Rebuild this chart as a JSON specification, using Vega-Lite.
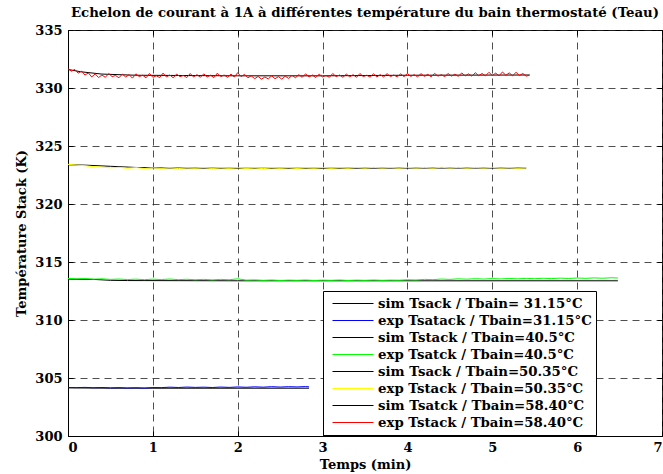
{
  "$schema": "https://vega.github.io/schema/vega-lite/v6.json",
  "width": 594,
  "height": 406,
  "autosize": "none",
  "padding": {"left": 68, "top": 30, "right": 1, "bottom": 38},
  "background": "white",
  "title": {
    "text": "Echelon de courant à 1A à différentes température du bain thermostaté (Teau)",
    "font": "DejaVu Serif", "fontWeight": "bold", "fontSize": 13.3, "color": "black",
    "anchor": "middle", "offset": 5
  },
  "config": {
    "view": {"stroke": "black", "strokeWidth": 1},
    "axis": {
      "labelFont": "DejaVu Serif", "labelFontWeight": "bold", "labelFontSize": 13, "labelColor": "black",
      "titleFont": "DejaVu Serif", "titleFontWeight": "bold", "titleFontSize": 13, "titleColor": "black",
      "domainColor": "black", "tickColor": "black", "tickSize": -5,
      "gridColor": "#222", "gridDash": [7, 5], "gridWidth": 0.8, "gridOpacity": 1
    },
    "line": {"strokeWidth": 1}
  },
  "resolve": {"axis": {"x": "independent", "y": "independent"}},
  "layer": [
    {
      "data": {"values": [{"t": 0, "v": 304.15}, {"t": 0.5, "v": 304.12}, {"t": 2.84, "v": 304.12}]},
      "mark": "line",
      "encoding": {
        "x": {"field": "t", "type": "quantitative", "scale": {"domain": [0, 7], "nice": false},
              "axis": {"title": "Temps (min)", "values": [0,1,2,3,4,5,6,7], "grid": true, "labelPadding": 10, "titleY": 28, "titleBaseline": "middle"}},
        "y": {"field": "v", "type": "quantitative", "scale": {"domain": [300, 335], "nice": false, "zero": false},
              "axis": {"title": "Température Stack (K)", "values": [300,305,310,315,320,325,330,335], "grid": true, "labelPadding": 11, "titlePadding": 6}},
        "color": {"datum": "sim Tsack / Tbain= 31.15°C", "type": "nominal",
          "scale": {
            "domain": ["sim Tsack / Tbain= 31.15°C", "exp Tsatack / Tbain=31.15°C", "sim Tstack / Tbain=40.5°C", "exp Tsatck / Tbain=40.5°C", "sim Tsack / Tbain=50.35°C", "exp Tstack / Tbain=50.35°C", "sim Tsatck / Tbain=58.40°C", "exp Tstack / Tbain=58.40°C"],
            "range": ["#000000", "#0000ff", "#000000", "#00ff00", "#000000", "#ffff00", "#000000", "#ff0000"]
          },
          "legend": {
            "title": null, "orient": "none", "legendX": 255, "legendY": 261,
            "fillColor": "white", "strokeColor": "black", "padding": 4,
            "symbolType": "stroke", "symbolSize": 1681, "symbolStrokeWidth": 1, "symbolOffset": 5,
            "labelFont": "DejaVu Serif", "labelFontWeight": "bold", "labelFontSize": 13.3, "labelColor": "black",
            "labelLimit": 400, "labelOffset": 4, "rowPadding": 0, "clipHeight": 17
          }
        }
      }
    },
    {
      "data": {"values": [
        {"t": 0.0, "v": 304.18}, {"t": 0.1, "v": 304.17}, {"t": 0.2, "v": 304.19}, {"t": 0.3, "v": 304.16}, {"t": 0.4, "v": 304.18},
        {"t": 0.5, "v": 304.15}, {"t": 0.6, "v": 304.17}, {"t": 0.7, "v": 304.14}, {"t": 0.8, "v": 304.16}, {"t": 0.9, "v": 304.13},
        {"t": 1.0, "v": 304.18}, {"t": 1.1, "v": 304.17}, {"t": 1.2, "v": 304.21}, {"t": 1.3, "v": 304.18}, {"t": 1.4, "v": 304.22},
        {"t": 1.5, "v": 304.19}, {"t": 1.6, "v": 304.21}, {"t": 1.7, "v": 304.18}, {"t": 1.8, "v": 304.22}, {"t": 1.9, "v": 304.19},
        {"t": 2.0, "v": 304.23}, {"t": 2.1, "v": 304.20}, {"t": 2.2, "v": 304.24}, {"t": 2.3, "v": 304.21}, {"t": 2.4, "v": 304.25},
        {"t": 2.5, "v": 304.22}, {"t": 2.6, "v": 304.25}, {"t": 2.7, "v": 304.23}, {"t": 2.8, "v": 304.26}, {"t": 2.84, "v": 304.24}
      ]},
      "mark": "line",
      "encoding": {
        "x": {"field": "t", "type": "quantitative", "axis": null},
        "y": {"field": "v", "type": "quantitative", "axis": null},
        "color": {"datum": "exp Tsatack / Tbain=31.15°C", "type": "nominal"}
      }
    },
    {
      "data": {"values": [{"t": 0, "v": 313.52}, {"t": 0.3, "v": 313.5}, {"t": 0.5, "v": 313.42}, {"t": 0.7, "v": 313.4}, {"t": 2, "v": 313.38}, {"t": 6.48, "v": 313.38}]},
      "mark": "line",
      "encoding": {
        "x": {"field": "t", "type": "quantitative", "axis": null},
        "y": {"field": "v", "type": "quantitative", "axis": null},
        "color": {"datum": "sim Tstack / Tbain=40.5°C", "type": "nominal"}
      }
    },
    {
      "data": {"values": [
        {"t": 0.0, "v": 313.58}, {"t": 0.1, "v": 313.55}, {"t": 0.2, "v": 313.57}, {"t": 0.3, "v": 313.52}, {"t": 0.4, "v": 313.55},
        {"t": 0.5, "v": 313.50}, {"t": 0.6, "v": 313.53}, {"t": 0.7, "v": 313.49}, {"t": 0.8, "v": 313.52}, {"t": 0.9, "v": 313.48},
        {"t": 1.0, "v": 313.52}, {"t": 1.1, "v": 313.49}, {"t": 1.2, "v": 313.53}, {"t": 1.3, "v": 313.48}, {"t": 1.4, "v": 313.51},
        {"t": 1.5, "v": 313.47}, {"t": 1.6, "v": 313.50}, {"t": 1.7, "v": 313.46}, {"t": 1.8, "v": 313.50}, {"t": 1.9, "v": 313.47},
        {"t": 2.0, "v": 313.55}, {"t": 2.1, "v": 313.44}, {"t": 2.2, "v": 313.46}, {"t": 2.3, "v": 313.42}, {"t": 2.4, "v": 313.45},
        {"t": 2.5, "v": 313.41}, {"t": 2.6, "v": 313.44}, {"t": 2.7, "v": 313.42}, {"t": 2.8, "v": 313.45}, {"t": 2.9, "v": 313.41},
        {"t": 3.0, "v": 313.44}, {"t": 3.1, "v": 313.42}, {"t": 3.2, "v": 313.45}, {"t": 3.3, "v": 313.41}, {"t": 3.4, "v": 313.44},
        {"t": 3.5, "v": 313.42}, {"t": 3.6, "v": 313.45}, {"t": 3.7, "v": 313.42}, {"t": 3.8, "v": 313.44}, {"t": 3.9, "v": 313.43},
        {"t": 4.0, "v": 313.47}, {"t": 4.1, "v": 313.45}, {"t": 4.2, "v": 313.50}, {"t": 4.3, "v": 313.48}, {"t": 4.4, "v": 313.53},
        {"t": 4.5, "v": 313.50}, {"t": 4.6, "v": 313.55}, {"t": 4.7, "v": 313.52}, {"t": 4.8, "v": 313.56}, {"t": 4.9, "v": 313.53},
        {"t": 5.0, "v": 313.57}, {"t": 5.1, "v": 313.54}, {"t": 5.2, "v": 313.58}, {"t": 5.3, "v": 313.55}, {"t": 5.4, "v": 313.59},
        {"t": 5.5, "v": 313.56}, {"t": 5.6, "v": 313.60}, {"t": 5.7, "v": 313.57}, {"t": 5.8, "v": 313.61}, {"t": 5.9, "v": 313.58},
        {"t": 6.0, "v": 313.62}, {"t": 6.1, "v": 313.59}, {"t": 6.2, "v": 313.63}, {"t": 6.3, "v": 313.60}, {"t": 6.4, "v": 313.64},
        {"t": 6.48, "v": 313.62}
      ]},
      "mark": "line",
      "encoding": {
        "x": {"field": "t", "type": "quantitative", "axis": null},
        "y": {"field": "v", "type": "quantitative", "axis": null},
        "color": {"datum": "exp Tsatck / Tbain=40.5°C", "type": "nominal"}
      }
    },
    {
      "data": {"values": [{"t": 0, "v": 323.38}, {"t": 0.2, "v": 323.35}, {"t": 0.5, "v": 323.25}, {"t": 0.8, "v": 323.15}, {"t": 1.2, "v": 323.1}, {"t": 2, "v": 323.08}, {"t": 3, "v": 323.08}, {"t": 4, "v": 323.1}, {"t": 5.4, "v": 323.1}]},
      "mark": "line",
      "encoding": {
        "x": {"field": "t", "type": "quantitative", "axis": null},
        "y": {"field": "v", "type": "quantitative", "axis": null},
        "color": {"datum": "sim Tsack / Tbain=50.35°C", "type": "nominal"}
      }
    },
    {
      "data": {"values": [
        {"t": 0.0, "v": 323.42}, {"t": 0.1, "v": 323.35}, {"t": 0.2, "v": 323.30}, {"t": 0.3, "v": 323.22}, {"t": 0.4, "v": 323.18},
        {"t": 0.5, "v": 323.12}, {"t": 0.6, "v": 323.16}, {"t": 0.7, "v": 323.08}, {"t": 0.8, "v": 323.14}, {"t": 0.9, "v": 323.06},
        {"t": 1.0, "v": 323.12}, {"t": 1.1, "v": 323.07}, {"t": 1.2, "v": 323.13}, {"t": 1.3, "v": 323.05}, {"t": 1.4, "v": 323.12},
        {"t": 1.5, "v": 323.08}, {"t": 1.6, "v": 323.14}, {"t": 1.7, "v": 323.06}, {"t": 1.8, "v": 323.12}, {"t": 1.9, "v": 323.07},
        {"t": 2.0, "v": 323.13}, {"t": 2.1, "v": 323.06}, {"t": 2.2, "v": 323.11}, {"t": 2.3, "v": 323.05}, {"t": 2.4, "v": 323.12},
        {"t": 2.5, "v": 323.07}, {"t": 2.6, "v": 323.13}, {"t": 2.7, "v": 323.06}, {"t": 2.8, "v": 323.12}, {"t": 2.9, "v": 323.08},
        {"t": 3.0, "v": 323.14}, {"t": 3.1, "v": 323.07}, {"t": 3.2, "v": 323.13}, {"t": 3.3, "v": 323.08}, {"t": 3.4, "v": 323.15},
        {"t": 3.5, "v": 323.09}, {"t": 3.6, "v": 323.16}, {"t": 3.7, "v": 323.10}, {"t": 3.8, "v": 323.15}, {"t": 3.9, "v": 323.09},
        {"t": 4.0, "v": 323.16}, {"t": 4.1, "v": 323.10}, {"t": 4.2, "v": 323.15}, {"t": 4.3, "v": 323.09}, {"t": 4.4, "v": 323.17},
        {"t": 4.5, "v": 323.10}, {"t": 4.6, "v": 323.16}, {"t": 4.7, "v": 323.09}, {"t": 4.8, "v": 323.15}, {"t": 4.9, "v": 323.10},
        {"t": 5.0, "v": 323.16}, {"t": 5.1, "v": 323.09}, {"t": 5.2, "v": 323.14}, {"t": 5.3, "v": 323.08}, {"t": 5.4, "v": 323.12}
      ]},
      "mark": "line",
      "encoding": {
        "x": {"field": "t", "type": "quantitative", "axis": null},
        "y": {"field": "v", "type": "quantitative", "axis": null},
        "color": {"datum": "exp Tstack / Tbain=50.35°C", "type": "nominal"}
      }
    },
    {
      "data": {"values": [{"t": 0, "v": 331.6}, {"t": 0.15, "v": 331.4}, {"t": 0.4, "v": 331.2}, {"t": 0.8, "v": 331.1}, {"t": 2, "v": 331.05}, {"t": 3, "v": 331.05}, {"t": 4, "v": 331.1}, {"t": 5.44, "v": 331.12}]},
      "mark": "line",
      "encoding": {
        "x": {"field": "t", "type": "quantitative", "axis": null},
        "y": {"field": "v", "type": "quantitative", "axis": null},
        "color": {"datum": "sim Tsatck / Tbain=58.40°C", "type": "nominal"}
      }
    },
    {
      "data": {"values": [
        {"t": 0.00, "v": 331.65}, {"t": 0.04, "v": 331.45}, {"t": 0.08, "v": 331.60}, {"t": 0.12, "v": 331.28}, {"t": 0.16, "v": 331.45},
        {"t": 0.20, "v": 331.12}, {"t": 0.24, "v": 331.30}, {"t": 0.28, "v": 330.95}, {"t": 0.32, "v": 331.22}, {"t": 0.36, "v": 330.90},
        {"t": 0.40, "v": 331.12}, {"t": 0.44, "v": 330.92}, {"t": 0.48, "v": 331.25}, {"t": 0.52, "v": 330.98}, {"t": 0.56, "v": 331.08},
        {"t": 0.60, "v": 330.88}, {"t": 0.64, "v": 331.20}, {"t": 0.68, "v": 330.95}, {"t": 0.72, "v": 331.15}, {"t": 0.76, "v": 330.85},
        {"t": 0.80, "v": 331.22}, {"t": 0.84, "v": 330.98}, {"t": 0.88, "v": 331.10}, {"t": 0.92, "v": 330.88}, {"t": 0.96, "v": 331.25},
        {"t": 1.00, "v": 330.92}, {"t": 1.04, "v": 331.05}, {"t": 1.08, "v": 330.90}, {"t": 1.12, "v": 331.28}, {"t": 1.16, "v": 330.95},
        {"t": 1.20, "v": 331.12}, {"t": 1.24, "v": 330.88}, {"t": 1.28, "v": 331.20}, {"t": 1.32, "v": 330.98}, {"t": 1.36, "v": 331.08},
        {"t": 1.40, "v": 330.90}, {"t": 1.44, "v": 331.25}, {"t": 1.48, "v": 330.95}, {"t": 1.52, "v": 331.15}, {"t": 1.56, "v": 330.92},
        {"t": 1.60, "v": 331.22}, {"t": 1.64, "v": 330.95}, {"t": 1.68, "v": 331.10}, {"t": 1.72, "v": 330.90}, {"t": 1.76, "v": 331.28},
        {"t": 1.80, "v": 330.98}, {"t": 1.84, "v": 331.12}, {"t": 1.88, "v": 330.92}, {"t": 1.92, "v": 331.20}, {"t": 1.96, "v": 330.95},
        {"t": 2.00, "v": 331.32}, {"t": 2.04, "v": 330.98}, {"t": 2.08, "v": 331.18}, {"t": 2.12, "v": 330.88}, {"t": 2.16, "v": 331.05},
        {"t": 2.20, "v": 330.80}, {"t": 2.24, "v": 331.00}, {"t": 2.28, "v": 330.76}, {"t": 2.32, "v": 330.95}, {"t": 2.36, "v": 330.78},
        {"t": 2.40, "v": 331.05}, {"t": 2.44, "v": 330.80}, {"t": 2.48, "v": 330.98}, {"t": 2.52, "v": 330.76}, {"t": 2.56, "v": 331.02},
        {"t": 2.60, "v": 330.82}, {"t": 2.64, "v": 331.10}, {"t": 2.68, "v": 330.88}, {"t": 2.72, "v": 331.15}, {"t": 2.76, "v": 330.92},
        {"t": 2.80, "v": 331.22}, {"t": 2.84, "v": 330.95}, {"t": 2.88, "v": 331.12}, {"t": 2.92, "v": 330.90}, {"t": 2.96, "v": 331.20},
        {"t": 3.00, "v": 330.95}, {"t": 3.04, "v": 331.08}, {"t": 3.08, "v": 330.92}, {"t": 3.12, "v": 331.25}, {"t": 3.16, "v": 330.98},
        {"t": 3.20, "v": 331.12}, {"t": 3.24, "v": 330.92}, {"t": 3.28, "v": 331.20}, {"t": 3.32, "v": 330.96}, {"t": 3.36, "v": 331.15},
        {"t": 3.40, "v": 330.92}, {"t": 3.44, "v": 331.25}, {"t": 3.48, "v": 330.98}, {"t": 3.52, "v": 331.10}, {"t": 3.56, "v": 330.94},
        {"t": 3.60, "v": 331.22}, {"t": 3.64, "v": 330.96}, {"t": 3.68, "v": 331.15}, {"t": 3.72, "v": 330.95}, {"t": 3.76, "v": 331.24},
        {"t": 3.80, "v": 330.98}, {"t": 3.84, "v": 331.12}, {"t": 3.88, "v": 330.96}, {"t": 3.92, "v": 331.22}, {"t": 3.96, "v": 330.98},
        {"t": 4.00, "v": 331.25}, {"t": 4.04, "v": 331.00}, {"t": 4.08, "v": 331.15}, {"t": 4.12, "v": 330.96}, {"t": 4.16, "v": 331.24},
        {"t": 4.20, "v": 331.00}, {"t": 4.24, "v": 331.18}, {"t": 4.28, "v": 330.96}, {"t": 4.32, "v": 331.26}, {"t": 4.36, "v": 331.02},
        {"t": 4.40, "v": 331.15}, {"t": 4.44, "v": 330.98}, {"t": 4.48, "v": 331.25}, {"t": 4.52, "v": 331.02}, {"t": 4.56, "v": 331.20},
        {"t": 4.60, "v": 331.00}, {"t": 4.64, "v": 331.30}, {"t": 4.68, "v": 331.04}, {"t": 4.72, "v": 331.22}, {"t": 4.76, "v": 331.02},
        {"t": 4.80, "v": 331.32}, {"t": 4.84, "v": 331.06}, {"t": 4.88, "v": 331.25}, {"t": 4.92, "v": 331.05}, {"t": 4.96, "v": 331.35},
        {"t": 5.00, "v": 331.08}, {"t": 5.04, "v": 331.28}, {"t": 5.08, "v": 331.05}, {"t": 5.12, "v": 331.38}, {"t": 5.16, "v": 331.10},
        {"t": 5.20, "v": 331.30}, {"t": 5.24, "v": 331.06}, {"t": 5.28, "v": 331.35}, {"t": 5.32, "v": 331.08}, {"t": 5.36, "v": 331.25},
        {"t": 5.40, "v": 331.02}, {"t": 5.44, "v": 331.12}
      ]},
      "mark": "line",
      "encoding": {
        "x": {"field": "t", "type": "quantitative", "axis": null},
        "y": {"field": "v", "type": "quantitative", "axis": null},
        "color": {"datum": "exp Tstack / Tbain=58.40°C", "type": "nominal"}
      }
    },
    {
      "data": {"values": [{"t": 0, "v": 300}, {"t": 7, "v": 335}]},
      "mark": {"type": "point", "opacity": 0},
      "encoding": {
        "x": {"field": "t", "type": "quantitative", "axis": {"orient": "top", "labels": false, "title": null, "grid": false, "domain": false, "values": [0,1,2,3,4,5,6,7]}},
        "y": {"field": "v", "type": "quantitative", "axis": {"orient": "right", "labels": false, "title": null, "grid": false, "domain": false, "values": [300,305,310,315,320,325,330,335]}}
      }
    }
  ]
}
